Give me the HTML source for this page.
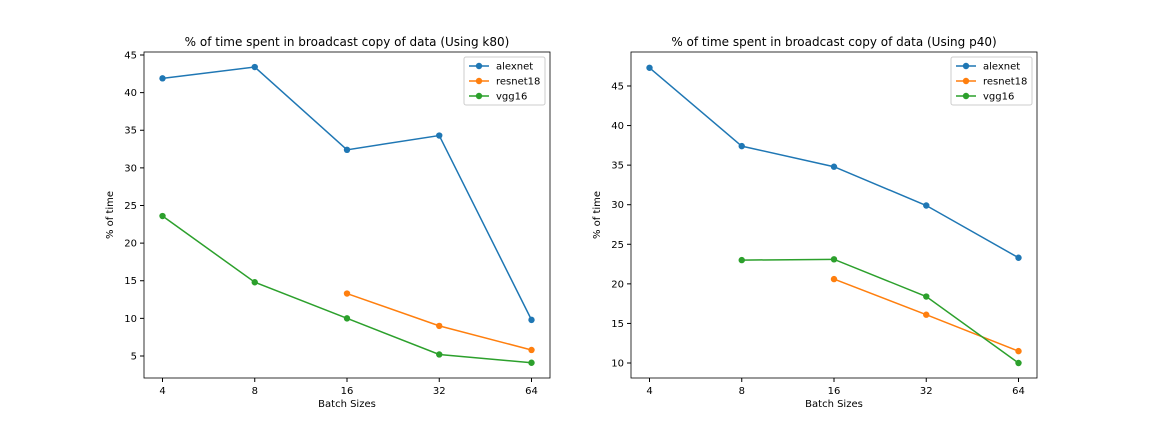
<!DOCTYPE html>
<html><head><meta charset="utf-8"><style>
body{margin:0;background:#fff;font-family:"Liberation Sans","DejaVu Sans",sans-serif}
</style></head><body>
<svg id="chart" width="1152" height="432" xmlns="http://www.w3.org/2000/svg" font-family="DejaVu Sans, Liberation Sans, sans-serif"></svg>
<script>
const categories = ["4","8","16","32","64"];
const k80Alexnet = [41.9, 43.4, 32.4, 34.3, 9.8];
const k80Resnet18 = [null, null, 13.3, 9.0, 5.8];
const k80Vgg16 = [23.6, 14.8, 10.0, 5.2, 4.1];
const p40Alexnet = [47.3, 37.4, 34.8, 29.9, 23.3];
const p40Resnet18 = [null, null, 20.6, 16.1, 11.5];
const p40Vgg16 = [null, 23.0, 23.1, 18.4, 10.0];
const k80Ticks = [5,10,15,20,25,30,35,40,45];
const p40Ticks = [10,15,20,25,30,35,40,45];
const seriesNames = ["alexnet","resnet18","vgg16"];
const colors = ["#1f77b4","#ff7f0e","#2ca02c"];

const NS="http://www.w3.org/2000/svg";
const svg=document.getElementById('chart');
function mk(tag,attrs,parent){const e=document.createElementNS(NS,tag);for(const k in attrs)e.setAttribute(k,attrs[k]);(parent||svg).appendChild(e);return e;}

function panel(id,x0,x1,y0,y1,vBottom,vTop,ticks,series,title){
  const g=mk('g',{});
  
  
  const xs=i=>x0+18.5+i*(x1-x0-37)/(categories.length-1);
  const ys=v=>y1-(v-vBottom)/(vTop-vBottom)*(y1-y0);
  const t=mk('text',{x:(x0+x1)/2,y:y0-6,'text-anchor':'middle','font-size':12},g);t.textContent=title;
  
  categories.forEach((c,i)=>{
    mk('line',{x1:xs(i),x2:xs(i),y1:y1,y2:y1+4,stroke:'#000'},g);
    const tt=mk('text',{x:xs(i),y:y1+16,'text-anchor':'middle','font-size':10},g);tt.textContent=c;
    
  });
  ticks.forEach(v=>{
    mk('line',{x1:x0-4,x2:x0,y1:ys(v),y2:ys(v),stroke:'#000'},g);
    const tt=mk('text',{x:x0-7,y:ys(v)+3.5,'text-anchor':'end','font-size':10},g);tt.textContent=v;
    
  });
  const xl=mk('text',{x:(x0+x1)/2,y:y1+29,'text-anchor':'middle','font-size':10},g);xl.textContent='Batch Sizes';
  
  const yl=mk('text',{x:0,y:0,'text-anchor':'middle','font-size':10,transform:`translate(${x0-31},${(y0+y1)/2}) rotate(-90)`},g);yl.textContent='% of time';
  
  series.forEach((s,k)=>{
    const pts=[];s.forEach((v,i)=>{if(v!==null)pts.push([xs(i),ys(v)]);});
    const p=mk('polyline',{points:pts.map(p=>p.join(',')).join(' '),fill:'none',stroke:colors[k],'stroke-width':1.5},g);
    
    pts.forEach(pt=>{const c=mk('circle',{cx:pt[0],cy:pt[1],r:3.2,fill:colors[k]},g);
      });
  });
  mk('rect',{x:x0,y:y0,width:x1-x0,height:y1-y0,fill:'none',stroke:'#000','stroke-width':0.8},g);
  const lg=mk('g',{},g);
  
  const lx=x1-86,ly=y0+5;
  mk('rect',{x:lx,y:ly,width:81,height:48,fill:'#fff',stroke:'#ccc',rx:2},lg);
  seriesNames.forEach((n,k)=>{
    const yy=ly+9+k*15;
    mk('line',{x1:lx+5,x2:lx+25,y1:yy,y2:yy,stroke:colors[k],'stroke-width':1.5},lg);
    mk('circle',{cx:lx+15,cy:yy,r:3.2,fill:colors[k]},lg);
    const lt=mk('text',{x:lx+32,y:yy+3.5,'font-size':10},lg);lt.textContent=n;
    
  });
}
panel('k80',144,550,52,378,5-(378-356)/7.52,45+(55-52)/7.52,k80Ticks,[k80Alexnet,k80Resnet18,k80Vgg16],'% of time spent in broadcast copy of data (Using k80)');
panel('p40',631,1037,52,378,10-(378-363)/7.92,45+(86-52)/7.92,p40Ticks,[p40Alexnet,p40Resnet18,p40Vgg16],'% of time spent in broadcast copy of data (Using p40)');
</script>
</body></html>
